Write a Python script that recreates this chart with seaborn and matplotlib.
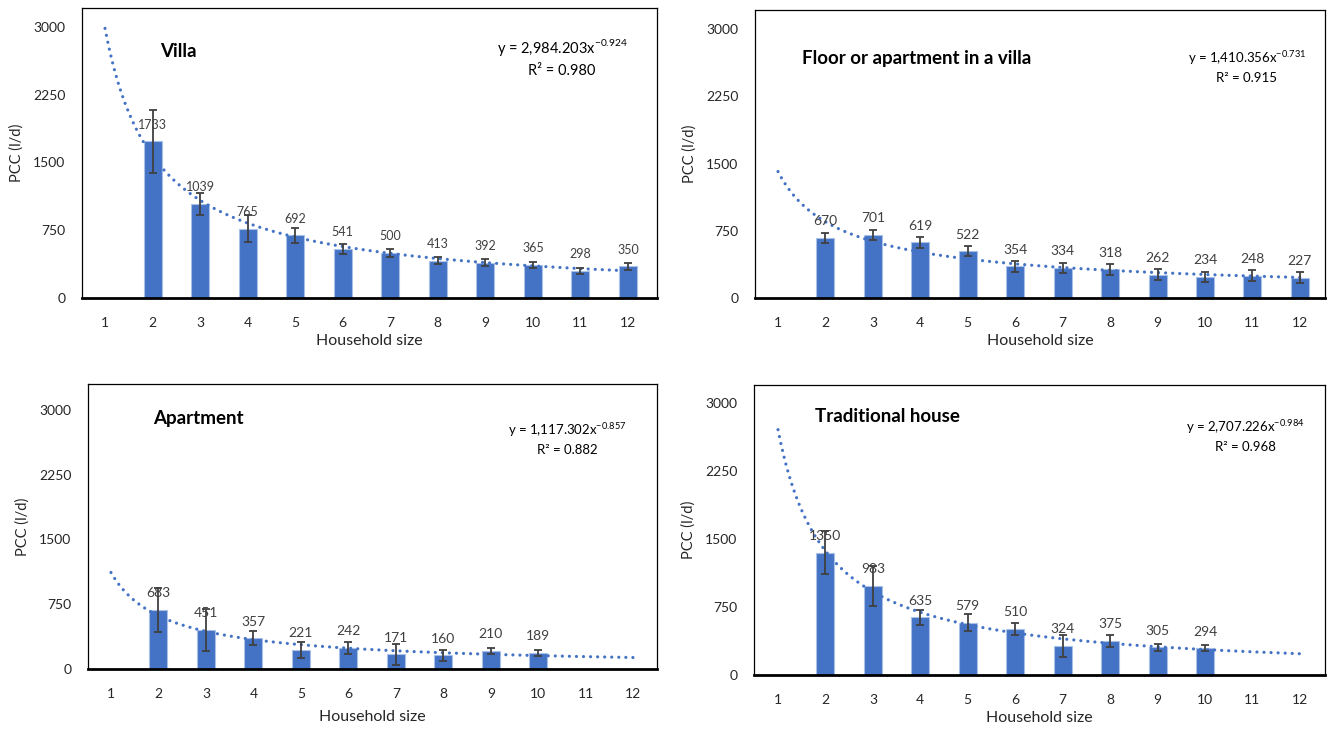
import numpy as np
import matplotlib
matplotlib.use("Agg")
import matplotlib.pyplot as plt
import seaborn as sns

sns.set_theme(style="white")
plt.rcParams["font.family"] = ["Lato", "DejaVu Sans"]
plt.rcParams["mathtext.fontset"] = "custom"
plt.rcParams["mathtext.rm"] = "Lato"

# Household size on the x axis
sizes = list(range(1, 13))

# PCC (l/d) per household size, no data for size 1 (and 11, 12 in two panels)
villa_x = [2, 3, 4, 5, 6, 7, 8, 9, 10, 11, 12]
villa_pcc = [1733, 1039, 765, 692, 541, 500, 413, 392, 365, 298, 350]
villa_err = [347, 122, 150, 78, 52, 46, 40, 35, 35, 35, 39]

floor_x = [2, 3, 4, 5, 6, 7, 8, 9, 10, 11, 12]
floor_pcc = [670, 701, 619, 522, 354, 334, 318, 262, 234, 248, 227]
floor_err = [56, 57, 59, 59, 59, 57, 59, 59, 59, 59, 59]

apt_x = [2, 3, 4, 5, 6, 7, 8, 9, 10]
apt_pcc = [683, 451, 357, 221, 242, 171, 160, 210, 189]
apt_err = [260, 247, 81, 96, 70, 120, 64, 33, 35]

trad_x = [2, 3, 4, 5, 6, 7, 8, 9, 10]
trad_pcc = [1350, 983, 635, 579, 510, 324, 375, 305, 294]
trad_err = [240, 225, 80, 94, 65, 120, 65, 37, 33]

# power trendline coefficients shown on the chart
fit_a = [2984.203, 1410.356, 1117.302, 2707.226]
fit_b = [-0.924, -0.731, -0.857, -0.984]
fit_r2 = ["0.980", "0.915", "0.882", "0.968"]
titles = ["Villa", "Floor or apartment in a villa", "Apartment", "Traditional house"]
eq_text = ["2,984.203", "1,410.356", "1,117.302", "2,707.226"]

yticks = [0, 750, 1500, 2250, 3000]

BAR = "#4472C4"
GREY = "#404040"

fig = plt.figure(figsize=(13.27, 7.29), dpi=100)

W, H = 1327, 729
# panel frames in pixels: left, top, right, bottom
frames = [(82, 8, 657, 298), (755, 10, 1325, 298), (88, 384, 657, 669), (754, 385, 1325, 675)]
ymaxs = [3210, 3212, 3300, 3200]
xlims = [(0.516, 12.61), (0.515, 12.53), (0.516, 12.5), (0.494, 12.53)]
title_pos = [(0.136, 0.85), (0.082, 0.833), (0.114, 0.88), (0.107, 0.89)]
eq_pos = [(0.835, 0.83), (0.863, 0.805), (0.842, 0.81), (0.86, 0.824)]
lbl_size = [9, 10, 10, 10]
eq_size = [10.5, 9.5, 9.5, 9.5]
xlab_pad = [3, 3, 7, 3]

data = [(villa_x, villa_pcc, villa_err), (floor_x, floor_pcc, floor_err),
        (apt_x, apt_pcc, apt_err), (trad_x, trad_pcc, trad_err)]

for i, (x, y, err) in enumerate(data):
    l, t, r, b = frames[i]
    ax = fig.add_axes([l / W, (H - b) / H, (r - l) / W, (b - t) / H])

    sns.barplot(x=x, y=y, native_scale=True, width=0.38, color=BAR,
                saturation=1, edgecolor="#a9c0e8", linewidth=0.8, ax=ax, zorder=2)
    ax.errorbar(x, y, yerr=err, fmt="none", ecolor=GREY, elinewidth=1.3,
                capsize=3, capthick=1.3, zorder=4)

    # dotted power trendline
    xf = np.linspace(1, 12, 200)
    yf = fit_a[i] * xf ** fit_b[i]
    sns.lineplot(x=xf, y=yf, ax=ax, color=BAR, linewidth=2.3,
                 linestyle=(0, (0.01, 2.2)), dash_capstyle="round", zorder=3)

    for xi, yi in zip(x, y):
        ax.annotate(str(yi), (xi, yi), xytext=(0, 12), textcoords="offset points",
                    ha="center", va="center", fontsize=lbl_size[i], color=GREY, zorder=5)

    ax.text(title_pos[i][0], title_pos[i][1], titles[i], transform=ax.transAxes,
            fontsize=13.5, fontweight="bold", color="black", ha="left", va="center")
    ax.text(eq_pos[i][0], eq_pos[i][1],
            "y = " + eq_text[i] + "x$^{\\mathregular{" + str(fit_b[i]) + "}}$\nR² = " + fit_r2[i],
            transform=ax.transAxes, fontsize=eq_size[i], color="black",
            ha="center", va="center", multialignment="center", linespacing=1.5)

    ax.set_xlim(*xlims[i])
    ax.set_ylim(0, ymaxs[i])
    ax.set_xticks(sizes)
    ax.set_xticklabels([str(s) for s in sizes])
    ax.set_yticks(yticks)
    ax.tick_params(axis="both", length=0, labelsize=10, labelcolor="#262626")
    ax.tick_params(axis="y", pad=12)
    ax.tick_params(axis="x", pad=14)
    ax.set_xlabel("Household size", fontsize=11.5, color="#262626", labelpad=xlab_pad[i])
    ax.set_ylabel("PCC (l/d)", fontsize=10.5, color="#262626", labelpad=7)
    for side in ["top", "left", "right"]:
        ax.spines[side].set_color("black")
        ax.spines[side].set_linewidth(0.9)
    ax.spines["bottom"].set_color("black")
    ax.spines["bottom"].set_linewidth(2)
    ax.grid(False)

fig.savefig("out.png", dpi=100)
